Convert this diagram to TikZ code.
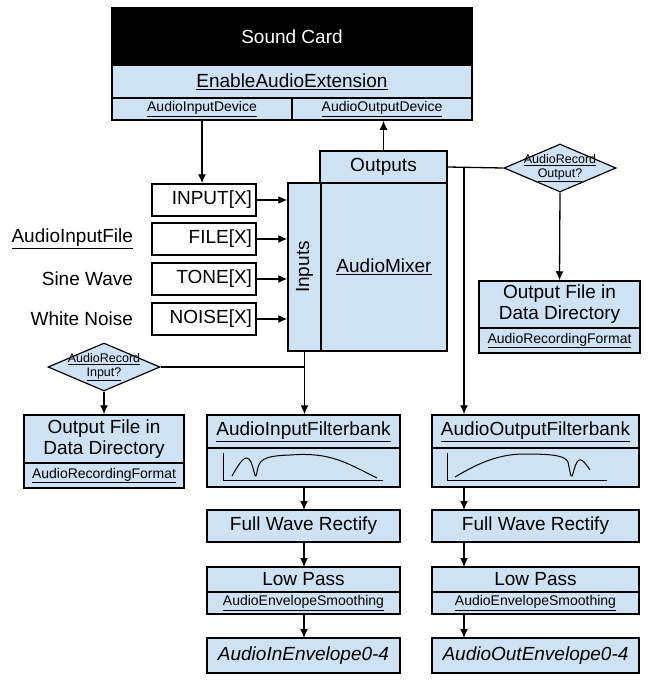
\documentclass[tikz,border=0pt]{standalone}
\usepackage{fontspec}
\setmainfont{Liberation Sans}
\usetikzlibrary{arrows.meta,shapes.geometric}
\usetikzlibrary{positioning}
\definecolor{paleblue}{HTML}{CFE2F3}
\tikzset{
    box/.style={
           rectangle,
           draw=black, line width=1.5pt,
           fill=paleblue,
           inner sep=0pt,
           text centered,
           font=\fontsize{19}{21}\selectfont,
           },
    plain/.style={box, fill=white},
    tiny/.style={font=\fontsize{14}{16}\selectfont},
    ask/.style={
           diamond, draw=black, line width=1.2pt,
           fill=paleblue, inner sep=0pt,
           minimum width=112pt, minimum height=48pt,
           },
}

\begin{document}
\begin{tikzpicture}[x=1pt,y=-1pt,>={Latex[length=9pt,width=8pt]},line width=1.3pt]
 \useasboundingbox (0,0) rectangle (654,686);

 % sound card block
 \node[box,fill=black,text=white,minimum width=360pt,minimum height=57pt] (card) at (292,36.5) {Sound Card};
 \node[box,minimum width=360pt,minimum height=33pt] (enable) at (292,81.5) {\underline{EnableAudioExtension}};
 \node[box,tiny,minimum width=180pt,minimum height=22pt] (indev) at (202,109) {\underline{AudioInputDevice}};
 \node[box,tiny,minimum width=180pt,minimum height=22pt] (outdev) at (382,109) {\underline{AudioOutputDevice}};

 % input channels
 \foreach \name/\txt/\y in {inp/INPUT[X]/200, file/FILE[X]/239, tone/TONE[X]/279, noise/NOISE[X]/319}
  \node[plain,minimum width=104pt,minimum height=32pt,text width=96pt,align=right] (\name) at (204,\y) {\txt};

 \node[anchor=east,font=\fontsize{19}{21}\selectfont] (filesrc) at (137,239) {\underline{AudioInputFile}};
 \node[anchor=east,font=\fontsize{19}{21}\selectfont] (sine) at (137,279) {Sine Wave};
 \node[anchor=east,font=\fontsize{19}{21}\selectfont] (white) at (137,319) {White Noise};

 % mixer
 \node[box,minimum width=33pt,minimum height=168pt] (inputs) at (304.5,267) {};
 \node[rotate=90,font=\fontsize{19}{21}\selectfont] at (inputs) {Inputs};
 \node[box,minimum width=126pt,minimum height=168pt] (mixer) at (384,267) {\underline{AudioMixer}};
 \node[box,minimum width=127pt,minimum height=32pt] (outs) at (383.5,167) {Outputs};

 % recording decisions
 \node[ask] (askin) at (104,367) {};
 \node[align=center,font=\fontsize{12.5}{14}\selectfont] at (askin) {\underline{AudioRecord}\\\underline{Input?}};
 \node[ask] (askout) at (560,168) {};
 \node[align=center,font=\fontsize{12.5}{14}\selectfont] at (askout) {\underline{AudioRecord}\\\underline{Output?}};

 \node[box,align=center,minimum width=160pt,minimum height=48pt] (infile) at (104,439) {Output File in\\Data Directory};
 \node[box,tiny,minimum width=160pt,minimum height=25pt] (infmt) at (104,475.5) {\underline{AudioRecordingFormat}};
 \node[box,align=center,minimum width=161pt,minimum height=47pt] (outfile) at (559.5,304.5) {Output File in\\Data Directory};
 \node[box,tiny,minimum width=161pt,minimum height=25pt] (outfmt) at (559.5,340.5) {\underline{AudioRecordingFormat}};

 % analysis chains
 \foreach \c/\x/\w/\io in {in/303.5/193/Input, out/535.5/207/Output} {
  \node[box,minimum width=\w pt,minimum height=33pt] (\c bank) at (\x,431.5) {\underline{Audio\io Filterbank}};
  \node[box,minimum width=\w pt,minimum height=39pt] (\c plot) at (\x,467.5) {};
  \node[box,minimum width=\w pt,minimum height=32pt] (\c rect) at (\x,526) {Full Wave Rectify};
  \node[box,minimum width=\w pt,minimum height=25pt] (\c low) at (\x,579.5) {Low Pass};
  \node[box,tiny,minimum width=\w pt,minimum height=22pt] (\c smooth) at (\x,603) {\underline{AudioEnvelopeSmoothing}};
 }
 \node[box,minimum width=193pt,minimum height=35pt] (inenv) at (303.5,655.5) {\itshape AudioInEnvelope0-4};
 \node[box,minimum width=207pt,minimum height=35pt] (outenv) at (535.5,655.5) {\itshape AudioOutEnvelope0-4};

 % filter responses
 \draw[line width=1pt] (223,453) -- (223,480) -- (383,480);
 \draw[line width=1pt] (232,476) .. controls (240,462) and (246,452) .. (251,462)
  .. controls (255,472) and (255,482) .. (257,472)
  .. controls (259,460) and (262,456) .. (290,455)
  .. controls (330,452) and (345,462) .. (377,478);
 \draw[line width=1pt] (447,453) -- (447,480) -- (607,480);
 \draw[line width=1pt] (455,477) .. controls (480,462) and (500,454) .. (525,454)
  .. controls (555,454) and (565,456) .. (568,462)
  .. controls (571,476) and (571,482) .. (574,470)
  .. controls (578,455) and (582,458) .. (590,470);

 % connectors
 \coordinate (outtap) at (464,167);
 \coordinate (intap) at (304.5,367);
 \draw[->] (indev) -- (indev |- inp.north);
 \draw[->] (outs.north) -- (outs.north |- outdev.south);
 \foreach \name in {inp,file,tone,noise}
  \draw[->] (\name.east) -- (\name.east -| inputs.west);
 \draw (outs.east) -- (askout.west);
 \draw[->] (outtap) -- (outtap |- outbank.north);
 \draw[->] (askout.south) -- (outfile.north);
 \draw[->] (inputs.south) -- (inputs.south |- inbank.north);
 \draw (askin.east) -- (intap);
 \draw[->] (askin.south) -- (infile.north);
 \foreach \c/\x in {in/304, out/464} {
  \draw[->] (\x,487) -- (\x,510);
  \draw[->] (\x,542) -- (\x,567);
  \draw[->] (\x,614) -- (\x,638);
 }

\end{tikzpicture}
\end{document}
